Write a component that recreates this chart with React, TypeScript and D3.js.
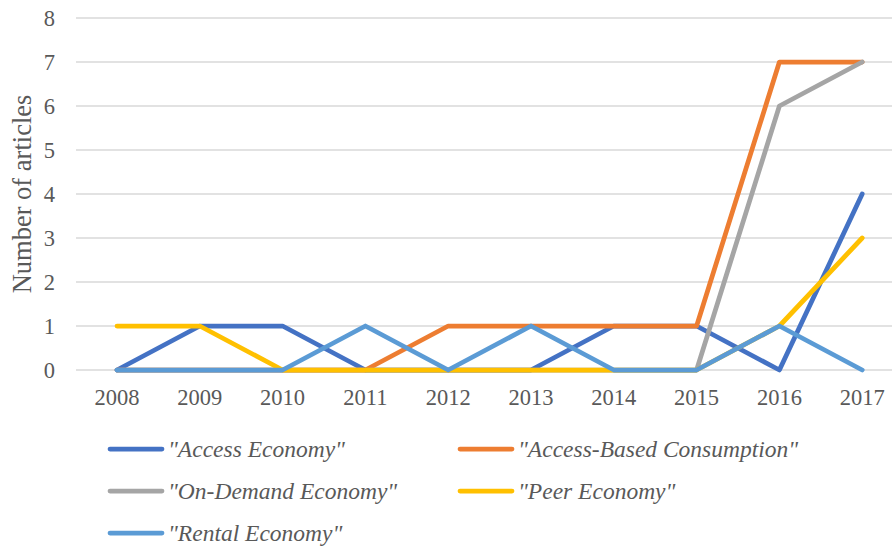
import React from "react";
import * as d3 from "d3";

const years = ["2008", "2009", "2010", "2011", "2012", "2013", "2014", "2015", "2016", "2017"];
const accessEconomy = [0, 1, 1, 0, 0, 0, 1, 1, 0, 4];
const accessBased = [0, 0, 0, 0, 1, 1, 1, 1, 7, 7];
const onDemand = [0, 0, 0, 0, 0, 0, 0, 0, 6, 7];
const peerEconomy = [1, 1, 0, 0, 0, 0, 0, 0, 1, 3];
const rentalEconomy = [0, 0, 0, 1, 0, 1, 0, 0, 1, 0];
const yTicks = [0, 1, 2, 3, 4, 5, 6, 7, 8];

const seriesNames = ['"Access Economy"', '"Access-Based Consumption"', '"On-Demand Economy"', '"Peer Economy"', '"Rental Economy"'];
const seriesValues = [accessEconomy, accessBased, onDemand, peerEconomy, rentalEconomy];
const seriesColors = ["#4472C4", "#ED7D31", "#A5A5A5", "#FFC000", "#5B9BD5"];

export default function App() {
  const W = 892, H = 547;
  const x = d3.scaleBand().domain(years).range([75.6, 903.6]);
  const y = d3.scaleLinear().domain([0, 8]).range([370, 18]);
  const cx = (d: string) => (x(d) ?? 0) + x.bandwidth() / 2;
  const line = d3.line<number>().x((_, i) => cx(years[i])).y((v) => y(v));
  const font = "'Liberation Serif', 'Times New Roman', serif";
  const legendPos = [
    [108, 449], [458, 449], [108, 491], [458, 491], [108, 533],
  ];
  return (
    <svg width={W} height={H} style={{ position: "absolute", left: 0, top: 0, background: "#fff" }}>
      {yTicks.map((t) => (
        <g key={t}>
          <line x1={76} x2={903} y1={y(t)} y2={y(t)} stroke="#D9D9D9" strokeWidth={1.5} />
          <text x={55} y={y(t)} dy="0.35em" textAnchor="end" fontFamily={font} fontSize={22.5} fill="#595959">{t}</text>
        </g>
      ))}
      {years.map((yr) => (
        <text key={yr} x={cx(yr)} y={404.5} textAnchor="middle" fontFamily={font} fontSize={22.5} fill="#595959">{yr}</text>
      ))}
      <text transform={`translate(31,194) rotate(-90)`} textAnchor="middle" fontFamily={font} fontSize={26.5} fill="#595959">Number of articles</text>
      {seriesValues.map((vals, i) => (
        <path key={i} d={line(vals) ?? ""} fill="none" stroke={seriesColors[i]} strokeWidth={4.75} strokeLinejoin="round" strokeLinecap="round" />
      ))}
      {seriesNames.map((n, i) => (
        <g key={n}>
          <line x1={legendPos[i][0] + 2} x2={legendPos[i][0] + 54} y1={legendPos[i][1]} y2={legendPos[i][1]} stroke={seriesColors[i]} strokeWidth={4.75} strokeLinecap="round" />
          <text x={legendPos[i][0] + 60} y={legendPos[i][1]} dy="0.33em" fontFamily={font} fontStyle="italic" fontSize={23.5} fill="#595959">{n}</text>
        </g>
      ))}
    </svg>
  );
}
